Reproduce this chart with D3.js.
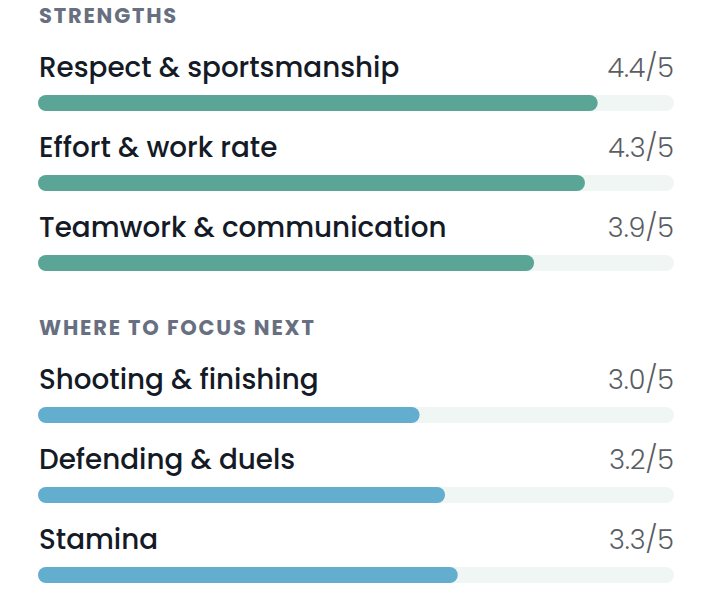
<!DOCTYPE html>
<html><head><meta charset="utf-8">
<script src="https://cdn.jsdelivr.net/npm/d3@7"></script>
<style>body{margin:0;background:#fff}</style>
</head><body><div id="chart"></div>
<script>
var strengthLabels = ["Respect & sportsmanship", "Effort & work rate", "Teamwork & communication"]
var strengthValues = [4.4, 4.3, 3.9]
var focusLabels = ["Shooting & finishing", "Defending & duels", "Stamina"]
var focusValues = [3.0, 3.2, 3.3]
var sections = ["STRENGTHS", "WHERE TO FOCUS NEXT"]

var svg = d3.select("#chart").append("svg").attr("width", 713).attr("height", 594)
var x = d3.scaleLinear().domain([0, 5]).range([38, 674])
var font = "Poppins, Inter, 'Open Sans', sans-serif"

function drawSection(title, labels, values, top, color) {
	var g = svg.append("g").attr("transform", "translate(0," + top + ")")
	g.append("text").attr("x", 39).attr("y", 23).text(title)
		.style("font", "700 21px " + font).style("letter-spacing", "1.8px").style("fill", "#676f80")
	var row = g.selectAll("g.row").data(values).enter().append("g")
		.attr("transform", function(d, i){return "translate(0," + (i*80) + ")"})
	row.append("text").attr("x", 39).attr("y", 77).text(function(d, i){return labels[i]})
		.style("font", "500 27.8px " + font).style("fill", "#141a26")
	row.append("text").attr("x", 674).attr("y", 77).attr("text-anchor", "end")
		.text(function(d){return d.toFixed(1) + "/5"})
		.style("font", "300 27px " + font).style("fill", "#5a5d63")
	row.append("rect").attr("x", x(0)).attr("y", 95).attr("height", 16).attr("rx", 8)
		.attr("width", x(5) - x(0)).style("fill", "#eff6f3")
	row.append("rect").attr("x", x(0)).attr("y", 95).attr("height", 16).attr("rx", 8)
		.attr("width", function(d){return x(d) - x(0)}).style("fill", color)
}
drawSection(sections[0], strengthLabels, strengthValues, 0, "#5aa595")
drawSection(sections[1], focusLabels, focusValues, 312, "#63adcf")
</script></body></html>
